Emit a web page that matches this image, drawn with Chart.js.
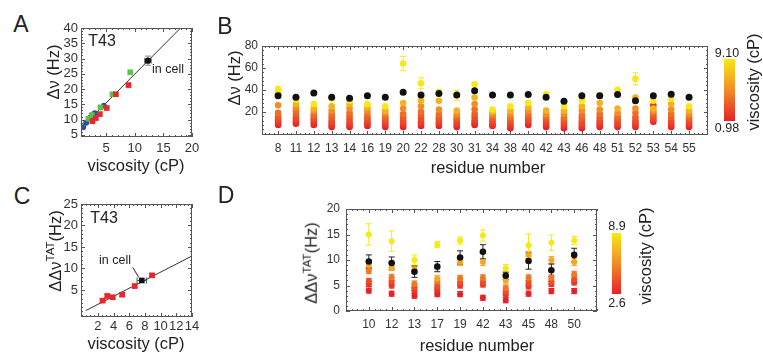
<!DOCTYPE html>
<html>
<head>
<meta charset="utf-8">
<script src="https://cdn.jsdelivr.net/npm/chart.js@4.4.0/dist/chart.umd.min.js"></script>
<style>
  body { margin: 0; width: 763px; height: 352px; overflow: hidden; position: relative; background: #fff;
         font-family: 'Liberation Sans', Arial, sans-serif; color: #222; }
  canvas { position: absolute; }
  .lbl { position: absolute; white-space: nowrap; line-height: 1; transform: translate(-50%, -50%); }
  .rot { position: absolute; white-space: nowrap; line-height: 1; transform: translate(-50%, -50%) rotate(-90deg); }
  .panel { font-size: 23px; }
  .title { font-size: 16.5px; }
  .bar { position: absolute; background: linear-gradient(to bottom, rgb(248,232,20), rgb(242,140,38), rgb(232,32,40)); }
  sup { font-size: 70%; line-height: 0; vertical-align: 0.55em; }
</style>
</head>
<body>
<canvas id="chartA" width="162" height="158" style="left:40px;top:20px"></canvas>
<canvas id="chartB" width="520" height="140" style="left:200px;top:38px"></canvas>
<canvas id="chartC" width="162" height="154" style="left:40px;top:196px"></canvas>
<canvas id="chartD" width="310" height="150" style="left:300px;top:200px"></canvas>

<div class="lbl panel" style="left:21px;top:24px">A</div>
<div class="lbl panel" style="left:225px;top:26px">B</div>
<div class="lbl panel" style="left:22px;top:196px">C</div>
<div class="lbl panel" style="left:226px;top:195px">D</div>

<div class="lbl" style="left:102px;top:41px;font-size:16px">T43</div>
<div class="lbl" style="left:168px;top:69px;font-size:12.5px">in cell</div>
<div class="lbl" style="left:104px;top:218px;font-size:16px">T43</div>
<div class="lbl" style="left:115px;top:260px;font-size:12.5px">in cell</div>

<div class="lbl title" style="left:136px;top:165px">viscosity (cP)</div>
<div class="rot title" style="left:53px;top:72px">Δν (Hz)</div>
<div class="lbl title" style="left:488px;top:167px">residue number</div>
<div class="rot title" style="left:234px;top:78px">Δν (Hz)</div>
<div class="lbl title" style="left:136px;top:343px">viscosity (cP)</div>
<div class="rot title" style="left:55px;top:251px">ΔΔν<sup>TAT</sup>(Hz)</div>
<div class="lbl title" style="left:477px;top:345px">residue number</div>
<div class="rot title" style="left:311px;top:263px">ΔΔν<sup>TAT</sup>(Hz)</div>

<div class="bar" style="left:724px;top:59px;width:11px;height:62px"></div>
<div class="lbl" style="left:727px;top:53px;font-size:12.5px">9.10</div>
<div class="lbl" style="left:727px;top:128px;font-size:12.5px">0.98</div>
<div class="rot title" style="left:753px;top:82px">viscosity (cP)</div>

<div class="bar" style="left:612px;top:233px;width:9px;height:61px"></div>
<div class="lbl" style="left:617px;top:226px;font-size:12.5px">8.9</div>
<div class="lbl" style="left:617px;top:303px;font-size:12.5px">2.6</div>
<div class="rot title" style="left:645px;top:256px">viscosity (cP)</div>

<script>
// ---- panel A: T43 vs viscosity ----
const aBlueX = [0.98, 1.5, 2.2, 3.0, 4.6];
const aBlueY = [7.5, 9.0, 10.6, 12.1, 14.5];
const aGreenX = [1.9, 2.5, 4.0, 6.1, 9.2];
const aGreenY = [10.3, 11.5, 14.0, 18.3, 25.5];
const aRedX = [2.6, 3.2, 3.9, 5.1, 6.7, 8.9];
const aRedY = [9.5, 10.5, 11.8, 13.8, 18.3, 21.3];
const aCell = [12.3, 29.3];
const aFitX = [0.6, 18];
const aFitY = [7.2, 40];

// ---- panel B: all residues ----
const residuesB = ['8','11','12','13','14','16','19','20','22','28','30','31','34','38','40','42','43','46','48','51','52','53','54','55'];
const bLevels = [0.98, 1.6, 2.2, 2.6, 3.2, 3.9, 5.1, 6.7, 9.10];
// one row per residue, one value per viscosity level
const bShift = [
  [8,10,12,14,16,19,26,36,40],
  [9,11,13,15,18,21,24,27,31],
  [8,10,12,14,16,18,21,23,27],
  [6,8,10,12,15,18,21,25,32],
  [6,8,10,13,16,19,23,27,30],
  [7,9,11,13,15,18,21,24,27],
  [6,8,10,12,14,16,19,21,25],
  [6,8,10,12,15,18,23,28,64],
  [7,9,11,14,17,20,25,30,46],
  [7,9,11,13,15,18,22,30,38],
  [6,8,10,12,14,16,18,21,35],
  [8,10,12,15,18,22,27,33,45],
  [7,8,10,12,14,16,18,20,22],
  [5,7,9,11,13,15,18,21,25],
  [8,10,12,14,16,18,21,24,28],
  [6,8,10,12,14,16,18,21,36],
  [5,7,9,11,13,15,18,21,25],
  [5,7,9,11,14,17,21,25,30],
  [6,8,10,12,15,18,22,28,35],
  [6,8,10,12,14,16,19,23,40],
  [6,8,10,12,15,19,23,33,50],
  [11,26,13,15,17,19,21,23,30],
  [6,8,10,12,15,18,22,27,32],
  [6,8,10,12,14,16,18,21,25]
];
const bTopErr = [3,0,0,0,0,0,0,6.5,5,2,4.5,0,0,0,0,0,0,0,0,0,5.5,0,0,0];
const bCell = [34.6,33.2,37.1,33.2,32.3,34.6,33.2,37.7,35.2,36.6,35.2,39.1,35.2,35.2,35.7,33.2,29.5,34.6,34.6,35.7,30,34.6,36,33.2];

// ---- panel C: T43 TAT ----
const cRedX = [2.6, 3.2, 3.9, 5.1, 6.7, 8.9];
const cRedY = [2.5, 3.6, 3.3, 3.9, 5.9, 8.4];
const cCell = [7.6, 7.2];
const cFitX = [0.47, 14];
const cFitY = [0.2, 12.9];

// ---- panel D: TAT residues ----
const residuesD = ['10','12','13','17','19','42','43','45','48','50'];
const dLevels = [2.6, 3.2, 3.9, 5.1, 6.7, 8.9];
const dShift = [
  [4.0,5.3,5.9,7.9,9.0,15.0],
  [3.4,5.0,5.8,6.6,8.6,13.7],
  [3.0,4.0,4.6,5.3,8.2,10.0],
  [3.3,4.2,4.8,5.8,6.3,13.0],
  [3.3,5.0,5.6,6.4,9.6,13.8],
  [2.6,5.2,5.6,6.5,9.6,14.8],
  [2.1,3.2,3.8,4.5,6.0,8.4],
  [3.4,4.8,5.5,6.5,11.0,12.9],
  [3.9,5.3,5.7,6.5,10.0,13.4],
  [3.9,5.6,6.2,7.2,9.6,13.8]
];
const dLevelErr = [0.5,0.5,0.5,0.6,0.7,0];
const dTopErr = [2.1,2.0,1.0,0.6,0.7,1.1,0.7,2.2,1.5,0.8];
const dCell = [9.7,9.4,7.7,8.7,10.5,11.6,6.9,9.8,8.0,11.0];
const dCellErr = [1.3,1.2,1.1,1.0,1.3,1.4,0.7,1.6,1.2,1.3];

const FONT = "'Liberation Sans', Arial, sans-serif";
Chart.defaults.font.family = FONT;
Chart.defaults.color = '#333';
Chart.defaults.animation = false;
Chart.defaults.plugins.legend.display = false;
Chart.defaults.plugins.tooltip.enabled = false;

// red -> orange -> yellow
function heat(t) {
  const stops = [[232,32,40],[242,140,38],[248,232,20]];
  const s = t < 0.5 ? 0 : 1;
  const u = t < 0.5 ? t * 2 : (t - 0.5) * 2;
  const c = stops[s].map((v, k) => Math.round(v + (stops[s + 1][k] - v) * u));
  return 'rgb(' + c.join(',') + ')';
}

const pts = (xs, ys) => xs.map((x, i) => ({x: x, y: ys[i]}));

// error bars, box frame with little inward ticks, leader line
const framePlugin = {
  id: 'frame',
  defaults: {xMinor: 0, yMinor: 0, leader: false},
  beforeDatasetsDraw(chart) {
    const {ctx, scales: {x, y}} = chart;
    ctx.save();
    ctx.lineWidth = 1;
    chart.data.datasets.forEach(ds => {
      if (!ds.errY && !ds.errX) return;
      ctx.strokeStyle = ds.errColor || ds.backgroundColor;
      ds.data.forEach((p, j) => {
        const ey = Array.isArray(ds.errY) ? ds.errY[j] : ds.errY;
        const ex = Array.isArray(ds.errX) ? ds.errX[j] : ds.errX;
        const px = x.getPixelForValue(p.x), py = y.getPixelForValue(p.y);
        ctx.beginPath();
        if (ey) {
          const t = y.getPixelForValue(p.y + ey), b = y.getPixelForValue(p.y - ey);
          ctx.moveTo(px, t); ctx.lineTo(px, b);
          ctx.moveTo(px - 3, t); ctx.lineTo(px + 3, t);
          ctx.moveTo(px - 3, b); ctx.lineTo(px + 3, b);
        }
        if (ex) {
          const l = x.getPixelForValue(p.x - ex), r = x.getPixelForValue(p.x + ex);
          ctx.moveTo(l, py); ctx.lineTo(r, py);
          ctx.moveTo(l, py - 3); ctx.lineTo(l, py + 3);
          ctx.moveTo(r, py - 3); ctx.lineTo(r, py + 3);
        }
        ctx.stroke();
      });
    });
    ctx.restore();
  },
  afterDraw(chart, args, opts) {
    const {ctx, chartArea: a, scales: {x, y}} = chart;
    ctx.save();
    ctx.strokeStyle = '#555';
    ctx.lineWidth = 1;
    ctx.strokeRect(a.left + 0.5, a.top + 0.5, a.right - a.left - 1, a.bottom - a.top - 1);
    ctx.beginPath();
    const xt = (v, len) => {
      const px = Math.round(x.getPixelForValue(v)) + 0.5;
      ctx.moveTo(px, a.top); ctx.lineTo(px, a.top + len);
      ctx.moveTo(px, a.bottom); ctx.lineTo(px, a.bottom - len);
    };
    const yt = (v, len) => {
      const py = Math.round(y.getPixelForValue(v)) + 0.5;
      ctx.moveTo(a.left, py); ctx.lineTo(a.left + len, py);
      ctx.moveTo(a.right, py); ctx.lineTo(a.right - len, py);
    };
    if (opts.xMinor) {
      for (let k = Math.ceil(x.min / opts.xMinor); k * opts.xMinor <= x.max; k++) xt(k * opts.xMinor, 2);
    }
    if (opts.yMinor) {
      for (let k = Math.ceil(y.min / opts.yMinor); k * opts.yMinor <= y.max; k++) yt(k * opts.yMinor, 2);
    }
    x.ticks.forEach(t => xt(t.value, 4));
    y.ticks.forEach(t => yt(t.value, 4));
    ctx.stroke();
    if (opts.leader) {
      const ds = chart.data.datasets.find(d => d.inCell);
      const px = x.getPixelForValue(ds.data[0].x), py = y.getPixelForValue(ds.data[0].y);
      ctx.strokeStyle = '#222';
      ctx.beginPath();
      ctx.moveTo(px - 9, py - 13);
      ctx.lineTo(px - 3, py - 3);
      ctx.stroke();
    }
    ctx.restore();
  }
};
Chart.register(framePlugin);

function axis(min, max, ticks, pad, size, fontSize, labels) {
  return {
    type: 'linear', min: min, max: max,
    grid: {display: false, drawTicks: false},
    border: {display: false},
    ticks: {
      padding: pad, color: '#333', font: {size: fontSize},
      autoSkip: false, maxRotation: 0,
      callback: labels ? (v => labels[v]) : (v => v)
    },
    afterBuildTicks: s => { s.ticks = ticks.map(v => ({value: v})); },
    afterFit: s => {
      if (s.isHorizontal()) s.height = size; else s.width = size;
      s.paddingLeft = s.paddingRight = s.paddingTop = s.paddingBottom = 0;
    }
  };
}

function scatterOpts(pad, xAxis, yAxis, frame) {
  return {
    responsive: false,
    devicePixelRatio: 1,
    layout: {padding: pad},
    scales: {x: xAxis, y: yAxis},
    plugins: {frame: frame}
  };
}

const fitLine = (xs, ys) => ({
  data: pts(xs, ys), showLine: true, pointRadius: 0,
  borderColor: '#333', borderWidth: 1, order: 30
});

// Panel A
new Chart(document.getElementById('chartA'), {
  type: 'scatter',
  data: {
    datasets: [
      fitLine(aFitX, aFitY),
      {data: pts(aBlueX, aBlueY), backgroundColor: '#2f4fa6', pointRadius: 3, borderWidth: 0, order: 3},
      {data: pts(aGreenX, aGreenY), backgroundColor: '#5cc24a', pointStyle: 'rect', pointRadius: 4, borderWidth: 0, order: 2},
      {data: pts(aRedX, aRedY), backgroundColor: '#e8262b', pointStyle: 'rect', pointRadius: 4, borderWidth: 0, order: 1},
      {data: [{x: aCell[0], y: aCell[1]}], backgroundColor: '#111', pointRadius: 3.2, borderWidth: 0, order: 0,
       errX: 0.6, errY: 1.5, errColor: '#888'}
    ]
  },
  options: scatterOpts({top: 8, right: 10, left: 0, bottom: 0},
    axis(0.6, 20, [5, 10, 15, 20], 4, 41, 13),
    axis(4.3, 40, [5, 10, 15, 20, 25, 30, 35, 40], 3, 41, 13),
    {xMinor: 1, yMinor: 1})
});

// Panel B
const bDatasets = bLevels.map((v, j) => {
  const col = heat((v - bLevels[0]) / (bLevels[bLevels.length - 1] - bLevels[0]));
  return {
    data: residuesB.map((r, i) => ({x: i, y: bShift[i][j]})),
    backgroundColor: col, pointRadius: 3.3, borderWidth: 0, order: 20 - j,
    errY: j === bLevels.length - 1 ? bTopErr : null, errColor: col
  };
});
bDatasets.push({
  data: residuesB.map((r, i) => ({x: i, y: bCell[i]})),
  backgroundColor: '#111', pointRadius: 3.5, borderWidth: 0, order: 0
});
new Chart(document.getElementById('chartB'), {
  type: 'scatter',
  data: {datasets: bDatasets},
  options: scatterOpts({top: 8, right: 12, left: 0, bottom: 0},
    axis(-0.9, 24.06, residuesB.map((r, i) => i), 6, 43, 12, residuesB),
    axis(-1.2, 80, [20, 40, 60, 80], 4, 62, 12),
    {xMinor: 0.25, yMinor: 4})
});

// Panel C
new Chart(document.getElementById('chartC'), {
  type: 'scatter',
  data: {
    datasets: [
      fitLine(cFitX, cFitY),
      {data: pts(cRedX, cRedY), backgroundColor: '#e8262b', pointStyle: 'rect', pointRadius: 4, borderWidth: 0, order: 1,
       errY: 0.4, errColor: '#e8262b'},
      {data: [{x: cCell[0], y: cCell[1]}], backgroundColor: '#111', pointStyle: 'rect', pointRadius: 4, borderWidth: 0,
       order: 0, inCell: true, errX: 0.6, errColor: '#555'}
    ]
  },
  options: scatterOpts({top: 8, right: 10, left: 0, bottom: 0},
    axis(-0.15, 14, [2, 4, 6, 8, 10, 12, 14], 2, 33, 13),
    axis(-1.3, 25, [5, 10, 15, 20, 25], 3, 41, 13),
    {xMinor: 0.5, yMinor: 1, leader: true})
});

// Panel D
const dDatasets = dLevels.map((v, j) => {
  const col = heat((v - dLevels[0]) / (dLevels[dLevels.length - 1] - dLevels[0]));
  return {
    data: residuesD.map((r, i) => ({x: i, y: dShift[i][j]})),
    backgroundColor: col, pointRadius: 3, borderWidth: 0, order: 20 - j,
    errY: j === dLevels.length - 1 ? dTopErr : dLevelErr[j], errColor: col
  };
});
dDatasets.push({
  data: residuesD.map((r, i) => ({x: i, y: dCell[i]})),
  backgroundColor: '#111', pointRadius: 3.3, borderWidth: 0, order: 0,
  errY: dCellErr, errColor: '#222'
});
new Chart(document.getElementById('chartD'), {
  type: 'scatter',
  data: {datasets: dDatasets},
  options: scatterOpts({top: 9, right: 13, left: 0, bottom: 0},
    axis(-1, 10, residuesD.map((r, i) => i), 6, 39, 12, residuesD),
    axis(0, 20, [0, 5, 10, 15, 20], 6, 46, 12),
    {xMinor: 0.25, yMinor: 1})
});
</script>
</body>
</html>
